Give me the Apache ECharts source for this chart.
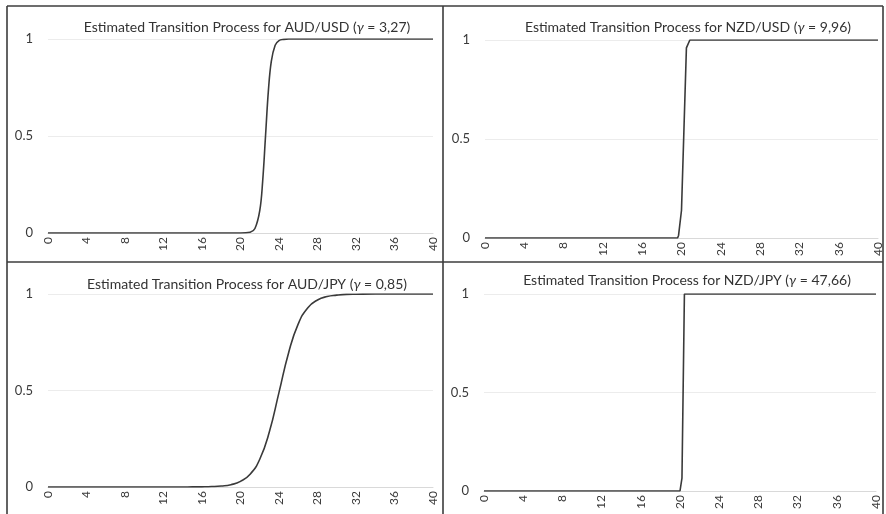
<!DOCTYPE html>
<html>
<head>
<meta charset="utf-8">
<script src="https://cdn.jsdelivr.net/npm/echarts@6/dist/echarts.min.js"></script>
<style>
  html, body { margin: 0; padding: 0; background: #fff; }
  #chart { width: 886px; height: 514px; }
</style>
</head>
<body>
<div id="chart"></div>
<script>
// values: transition function G(s) per pair
var audUsdX = [0, 20, 21, 21.5, 22, 22.3, 22.6, 22.9, 23.2, 23.6, 24, 24.5, 25, 40];
var audUsdY = [0, 0, 0.004, 0.023, 0.115, 0.265, 0.5, 0.735, 0.885, 0.968, 0.992, 0.998, 1, 1];

var nzdUsdX = [0, 19.6, 19.7, 20.0, 20.5, 20.85, 40];
var nzdUsdY = [0, 0, 0.013, 0.14, 0.96, 1, 1];

var audJpyX = [0, 14, 15, 16, 17, 18, 19, 20, 21, 22, 23, 24, 25, 26, 27, 28, 29, 30, 31, 32, 34, 40];
var audJpyY = [0, 0.0002, 0.0004, 0.0009, 0.0022, 0.0052, 0.012, 0.029, 0.066, 0.144, 0.286, 0.49,
  0.696, 0.845, 0.929, 0.969, 0.987, 0.994, 0.998, 0.999, 1, 1];

var nzdJpyX = [0, 20, 20.2, 20.45, 40];
var nzdJpyY = [0, 0, 0.065, 1, 1];

var titles = [
  ['AUD/USD', '3,27'],
  ['NZD/USD', '9,96'],
  ['AUD/JPY', '0,85'],
  ['NZD/JPY', '47,66']
];

function pairs(xs, ys) {
  return xs.map(function (x, i) { return [x, ys[i]]; });
}

var FONT = 'Lato';
var TXT = '#3a3a3a';

var grids = [
  { left: 48, right: 453, top: 39, bottom: 281 },
  { left: 485, right: 8, top: 40, bottom: 276 },
  { left: 48, right: 453, top: 294, bottom: 27 },
  { left: 484, right: 10, top: 294, bottom: 23 }
];
var titlePos = [[242, 15], [683, 15], [242, 272], [682, 268]];

var xAxes = [], yAxes = [], titleList = [];
for (var i = 0; i < 4; i++) {
  xAxes.push({
    gridIndex: i, type: 'value', min: 0, max: 40, interval: 4,
    axisLine: { show: true, onZero: false, lineStyle: { color: '#d9d9d9', width: 1 } },
    axisTick: { show: false },
    splitLine: { show: false },
    axisLabel: { rotate: 90, margin: 4, fontFamily: FONT, fontSize: 12, color: TXT }
  });
  yAxes.push({
    gridIndex: i, type: 'value', min: 0, max: 1, interval: 0.5,
    axisLine: { show: false },
    axisTick: { show: false },
    splitLine: { lineStyle: { color: '#ececec', width: 1 } },
    axisLabel: { margin: 15, fontFamily: FONT, fontSize: 13, color: TXT }
  });
  titleList.push({
    text: '{a|Estimated Transition Process for ' + titles[i][0] + ' (}{g|γ}{a| = ' + titles[i][1] + ')}',
    left: titlePos[i][0], top: titlePos[i][1], textAlign: 'center',
    textStyle: {
      fontWeight: 'normal',
      rich: {
        a: { fontFamily: FONT, fontSize: 14, fontWeight: 'normal', color: '#333' },
        g: { fontFamily: FONT, fontSize: 14, fontWeight: 'normal', fontStyle: 'italic', color: '#333' }
      }
    }
  });
}

var lineBase = { color: '#3a3a3a', width: 1.6 };
var series = [
  { type: 'line', xAxisIndex: 0, yAxisIndex: 0, data: pairs(audUsdX, audUsdY), smooth: 0.4 },
  { type: 'line', xAxisIndex: 1, yAxisIndex: 1, data: pairs(nzdUsdX, nzdUsdY) },
  { type: 'line', xAxisIndex: 2, yAxisIndex: 2, data: pairs(audJpyX, audJpyY), smooth: 0.5 },
  { type: 'line', xAxisIndex: 3, yAxisIndex: 3, data: pairs(nzdJpyX, nzdJpyY) }
].map(function (s) {
  s.showSymbol = false;
  s.symbol = 'none';
  s.lineStyle = lineBase;
  s.animation = false;
  return s;
});

// frame lines between the four panels
var frame = { stroke: '#3c3c3c', lineWidth: 1.6 };
var graphics = [
  { type: 'line', shape: { x1: 7, y1: 6, x2: 883, y2: 6 }, style: frame },
  { type: 'line', shape: { x1: 7, y1: 6, x2: 7, y2: 514 }, style: frame },
  { type: 'line', shape: { x1: 883, y1: 6, x2: 883, y2: 514 }, style: frame },
  { type: 'line', shape: { x1: 443, y1: 6, x2: 443, y2: 514 }, style: frame },
  { type: 'line', shape: { x1: 7, y1: 262, x2: 883, y2: 262 }, style: frame }
];

var myChart = echarts.init(document.getElementById('chart'));
myChart.setOption({
  animation: false,
  title: titleList,
  grid: grids,
  xAxis: xAxes,
  yAxis: yAxes,
  series: series,
  graphic: graphics
});
</script>
</body>
</html>
